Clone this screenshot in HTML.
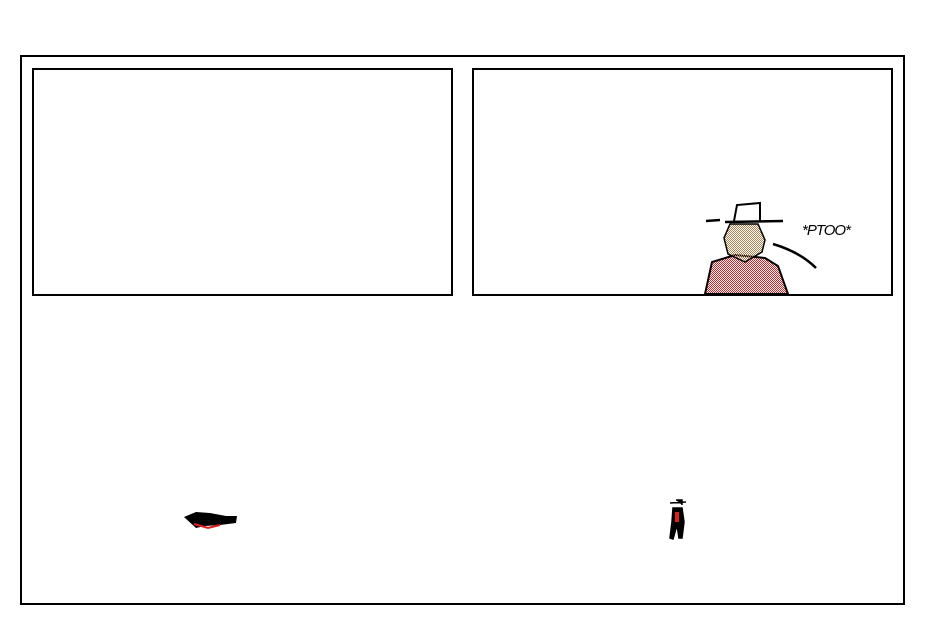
<!DOCTYPE html>
<html><head><style>
html,body{margin:0;padding:0;background:#fff;width:925px;height:625px;overflow:hidden}
</style></head><body>
<svg width="925" height="625" xmlns="http://www.w3.org/2000/svg">
<rect x="21" y="56" width="883" height="548" fill="#fff" stroke="#000" stroke-width="2"/>
<rect x="33" y="69" width="419" height="226" fill="#fff" stroke="#000" stroke-width="2"/>
<rect x="473" y="69" width="419" height="226" fill="#fff" stroke="#000" stroke-width="2"/>
<defs><pattern id="chk" width="2" height="2" patternUnits="userSpaceOnUse"><rect width="1" height="1" fill="#b08050"/><rect x="1" y="1" width="1" height="1" fill="#b08050"/></pattern>
<pattern id="red" width="2" height="2" patternUnits="userSpaceOnUse"><rect width="1" height="1" fill="#e02020"/><rect x="1" y="1" width="1" height="1" fill="#e02020"/></pattern></defs>
<!-- cowboy -->
<path d="M705 294 L712 262 L735 255 L765 258 L778 266 L788 294 Z" fill="url(#red)" stroke="#000" stroke-width="2"/>
<path d="M730 224 L758 224 L765 240 L762 252 L745 262 L728 254 L724 238 Z" fill="url(#chk)" stroke="#000" stroke-width="1.5"/>
<path d="M734 221 L737 205 L760 203 L760 221" fill="#fff" stroke="#000" stroke-width="2"/>
<path d="M706 221 L720 220 M725 222 L783 221" stroke="#000" stroke-width="2.5"/>
<path d="M773 244 Q800 252 816 268" fill="none" stroke="#000" stroke-width="2.5"/>
<text x="802" y="235" font-family="Liberation Sans, sans-serif" font-style="italic" font-size="15" letter-spacing="-1">*PTOO*</text>
<!-- lying figure -->
<path d="M184 517 L196 512 L210 513 L226 516 L237 516 L236 523 L220 525 L205 526 L196 528 Z" fill="#000"/>
<path d="M194 524 L208 528 L220 525" stroke="#e02020" stroke-width="2" fill="none"/>
<!-- standing figure -->
<path d="M670 503 L686 502 M676 500 L682 500 L682 505 M673 508 L682 508 L684 522 L682 538 L679 538 L677 525 L673 539 L670 538 L672 522 Z" fill="#000" stroke="#000" stroke-width="1.5"/>
<rect x="675" y="512" width="4" height="10" fill="#e02020"/>
</svg>
</body></html>
